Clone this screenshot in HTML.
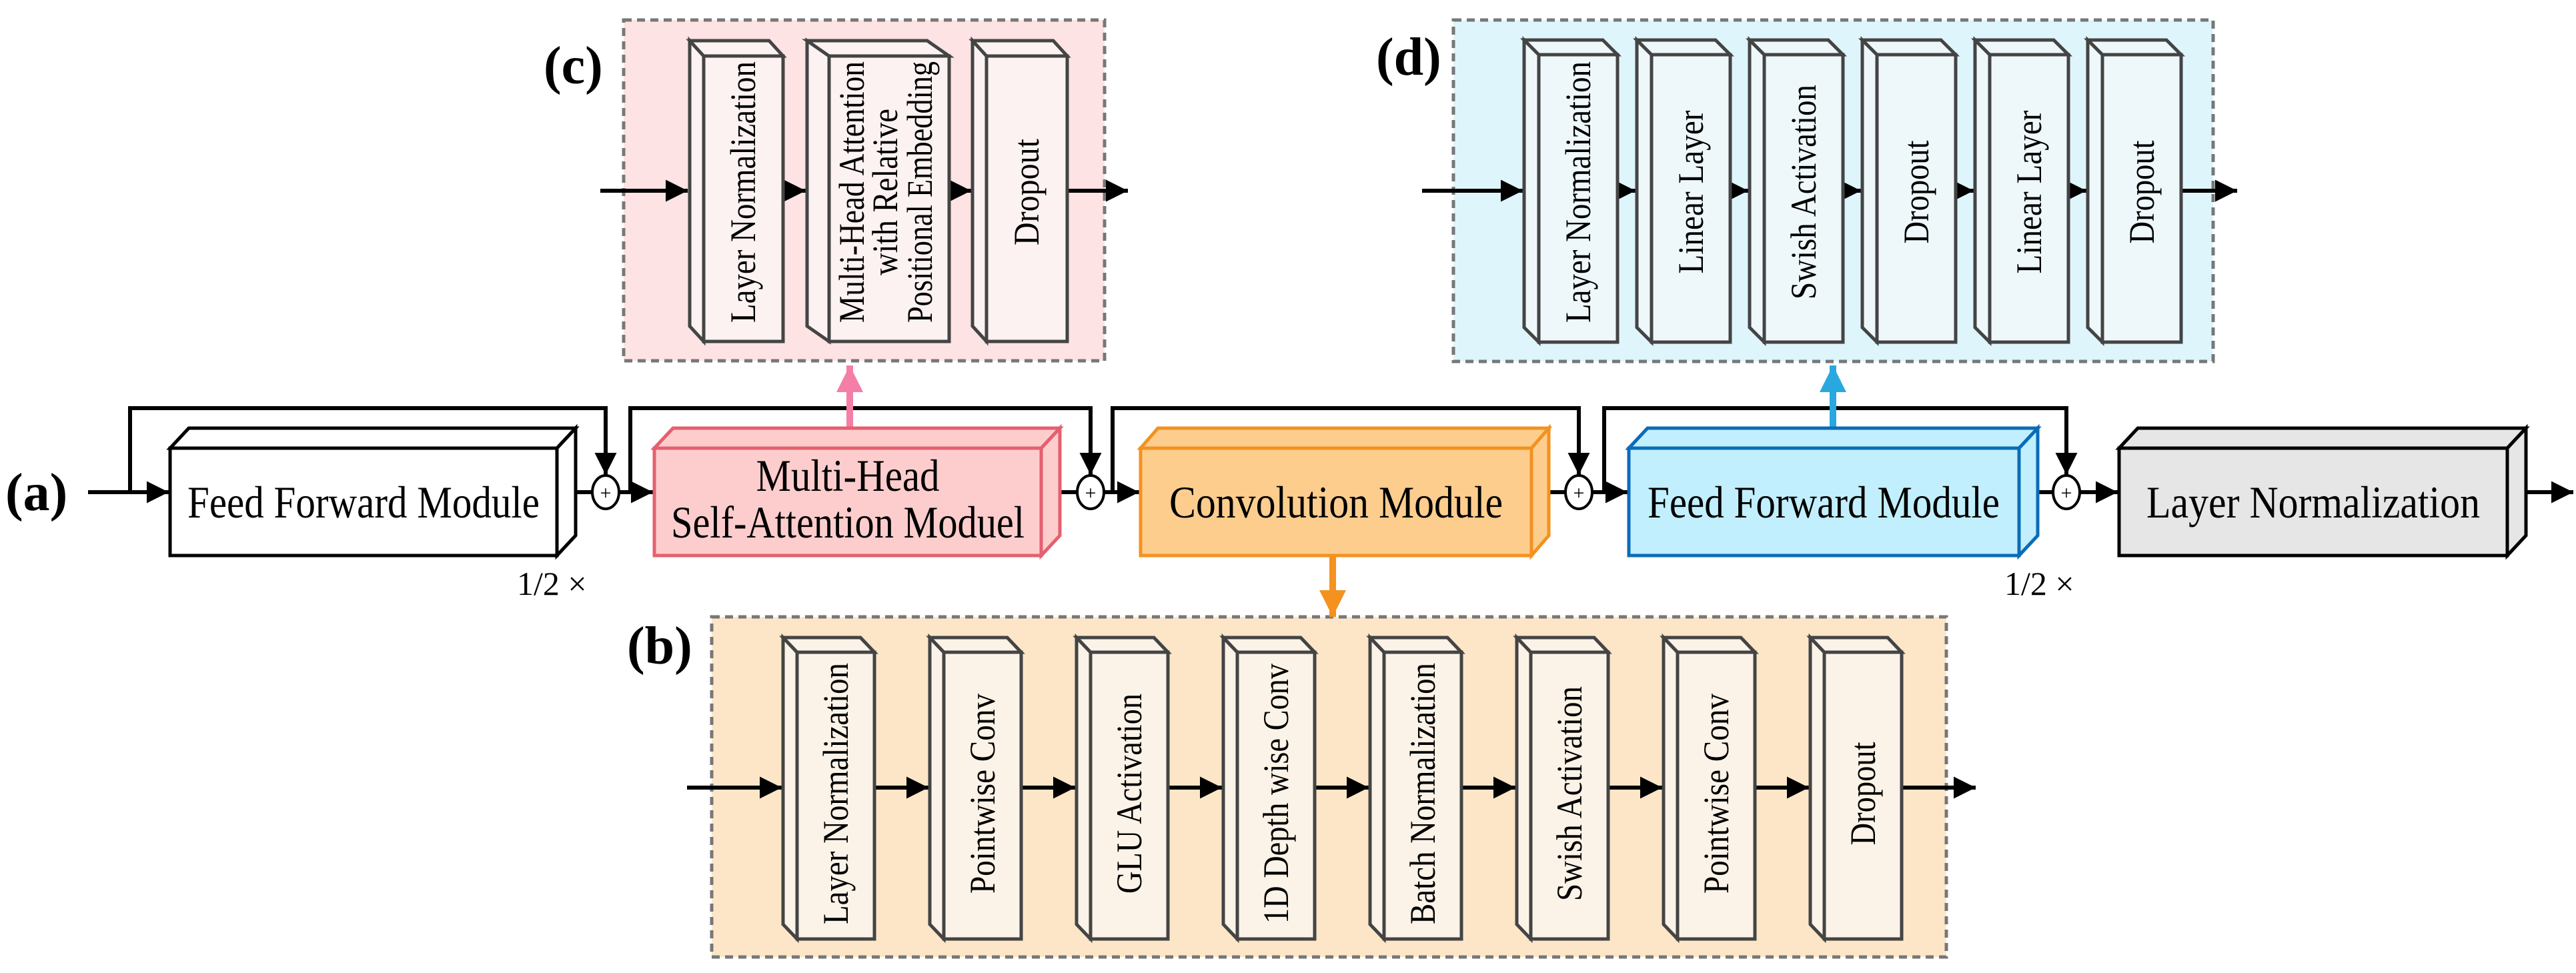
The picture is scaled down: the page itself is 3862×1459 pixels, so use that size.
<!DOCTYPE html>
<html><head><meta charset="utf-8"><style>html,body{margin:0;padding:0;background:#fff}svg{display:block}text{font-family:"Liberation Serif",serif}</style></head><body>
<svg width="3862" height="1459" viewBox="0 0 3862 1459" xmlns="http://www.w3.org/2000/svg" style="font-family:'Liberation Serif',serif">
<defs>
<marker id="a" viewBox="0 0 10 10" refX="10" refY="5" markerWidth="5.5" markerHeight="5.5" orient="auto"><path d="M0,0 L10,5 L0,10 z" fill="#000"/></marker>
<marker id="ap" viewBox="0 0 10 10" refX="10" refY="5" markerWidth="4" markerHeight="4" orient="auto"><path d="M0,0 L10,5 L0,10 z" fill="#f47ea8"/></marker>
<marker id="ao" viewBox="0 0 10 10" refX="10" refY="5" markerWidth="4" markerHeight="4" orient="auto"><path d="M0,0 L10,5 L0,10 z" fill="#f4921f"/></marker>
<marker id="ab" viewBox="0 0 10 10" refX="10" refY="5" markerWidth="4" markerHeight="4" orient="auto"><path d="M0,0 L10,5 L0,10 z" fill="#29a8e0"/></marker>
</defs>

<rect x="935" y="30" width="721" height="511" fill="#fde3e3" stroke="#777" stroke-width="5" stroke-dasharray="12,8"/>
<rect x="2179" y="30" width="1139" height="512" fill="#dff5fc" stroke="#777" stroke-width="5" stroke-dasharray="12,8"/>
<rect x="1067" y="925" width="1851" height="510" fill="#fde6c8" stroke="#777" stroke-width="5" stroke-dasharray="12,8"/>

<g font-size="80" font-weight="bold">
<text x="8" y="765">(a)</text>
<text x="940" y="995">(b)</text>
<text x="815" y="125">(c)</text>
<text x="2063" y="112">(d)</text>
</g>

<g stroke="#000" stroke-width="6" fill="none">
<line x1="132" y1="738" x2="253" y2="738" marker-end="url(#a)"/>
<line x1="863" y1="738" x2="888" y2="738"/>
<line x1="928" y1="738" x2="979" y2="738" marker-end="url(#a)"/>
<line x1="1589" y1="738" x2="1615" y2="738"/>
<line x1="1655" y1="738" x2="1708" y2="738" marker-end="url(#a)"/>
<line x1="2322" y1="738" x2="2347" y2="738"/>
<line x1="2387" y1="738" x2="2440" y2="738" marker-end="url(#a)"/>
<line x1="3055" y1="738" x2="3078" y2="738"/>
<line x1="3118" y1="738" x2="3175" y2="738" marker-end="url(#a)"/>
<line x1="3787" y1="738" x2="3858" y2="738" marker-end="url(#a)"/>
<polyline points="195,738 195,612 908,612 908,712" marker-end="url(#a)"/>
<polyline points="945,738 945,612 1635,612 1635,712" marker-end="url(#a)"/>
<polyline points="1668,738 1668,612 2367,612 2367,712" marker-end="url(#a)"/>
<polyline points="2405,738 2405,612 3098,612 3098,712" marker-end="url(#a)"/>
</g>
<g stroke="#000" stroke-width="4" fill="#fff">
<ellipse cx="908" cy="738" rx="20" ry="25"/><ellipse cx="1635" cy="738" rx="20" ry="25"/><ellipse cx="2367" cy="738" rx="20" ry="25"/><ellipse cx="3098" cy="738" rx="20" ry="25"/>
</g>
<g font-size="30" text-anchor="middle"><text x="908" y="749">+</text><text x="1635" y="749">+</text><text x="2367" y="749">+</text><text x="3098" y="749">+</text></g>

<line x1="1274" y1="642" x2="1274" y2="548" stroke="#f47ea8" stroke-width="10" marker-end="url(#ap)"/>
<line x1="1998" y1="833" x2="1998" y2="925" stroke="#f4921f" stroke-width="10" marker-end="url(#ao)"/>
<line x1="2748" y1="642" x2="2748" y2="548" stroke="#29a8e0" stroke-width="10" marker-end="url(#ab)"/>

<g stroke-width="5" stroke-linejoin="miter">
<g fill="#fff" stroke="#000">
<polygon points="255,672 283,642 863,642 835,672"/><polygon points="835,672 863,642 863,803 835,833"/><rect x="255" y="672" width="580" height="161"/>
</g>
<g fill="#fdcdcd" stroke="#e5606f">
<polygon points="981,672 1009,642 1589,642 1561,672"/><polygon points="1561,672 1589,642 1589,803 1561,833"/><rect x="981" y="672" width="580" height="161"/>
</g>
<g fill="#fdcd8e" stroke="#f3921f">
<polygon points="1710,672 1736,642 2322,642 2296,672"/><polygon points="2296,672 2322,642 2322,803 2296,833"/><rect x="1710" y="672" width="586" height="161"/>
</g>
<g fill="#c2effd" stroke="#0a6cb8">
<polygon points="2442,672 2470,642 3055,642 3027,672"/><polygon points="3027,672 3055,642 3055,803 3027,833"/><rect x="2442" y="672" width="585" height="161"/>
</g>
<g fill="#e6e6e6" stroke="#000">
<polygon points="3177,672 3205,642 3787,642 3759,672"/><polygon points="3759,672 3787,642 3787,803 3759,833"/><rect x="3177" y="672" width="582" height="161"/>
</g>
</g>
<g font-size="68" text-anchor="middle">
<text x="545" y="776" textLength="528" lengthAdjust="spacingAndGlyphs">Feed Forward Module</text>
<text x="1271" y="736" textLength="275" lengthAdjust="spacingAndGlyphs">Multi-Head</text>
<text x="1271" y="806" textLength="530" lengthAdjust="spacingAndGlyphs">Self-Attention Moduel</text>
<text x="2003" y="776" textLength="500" lengthAdjust="spacingAndGlyphs">Convolution Module</text>
<text x="2734" y="776" textLength="528" lengthAdjust="spacingAndGlyphs">Feed Forward Module</text>
<text x="3468" y="776" textLength="500" lengthAdjust="spacingAndGlyphs">Layer Normalization</text>
</g>
<g font-size="50"><text x="775" y="892">1/2 ×</text><text x="3005" y="892">1/2 ×</text></g>

<g stroke="#000" stroke-width="6" fill="none">
<line x1="900" y1="286" x2="1031" y2="286" marker-end="url(#a)"/>
<line x1="1174" y1="286" x2="1208" y2="286" marker-end="url(#a)"/>
<line x1="1423" y1="286" x2="1456" y2="286" marker-end="url(#a)"/>
<line x1="1600" y1="286" x2="1691" y2="286" marker-end="url(#a)"/>
</g>
<g fill="#fcf2f2" stroke="#444" stroke-width="5">
<polygon points="1055,84 1034,61 1034,489 1055,512"/><polygon points="1055,84 1034,61 1153,61 1174,84"/><rect x="1055" y="84" width="119" height="428"/>
<polygon points="1243,84 1210,61 1210,489 1243,512"/><polygon points="1243,84 1210,61 1390,61 1423,84"/><rect x="1243" y="84" width="180" height="428"/>
<polygon points="1479,84 1458,61 1458,489 1479,512"/><polygon points="1479,84 1458,61 1579,61 1600,84"/><rect x="1479" y="84" width="121" height="428"/>
</g>
<g font-size="54" text-anchor="middle">
<text transform="translate(1132,288) rotate(-90)" textLength="392" lengthAdjust="spacingAndGlyphs">Layer Normalization</text>
<text transform="translate(1295,288) rotate(-90)" textLength="392" lengthAdjust="spacingAndGlyphs">Multi-Head Attention</text>
<text transform="translate(1345,288) rotate(-90)" textLength="250" lengthAdjust="spacingAndGlyphs">with Relative</text>
<text transform="translate(1397,288) rotate(-90)" textLength="392" lengthAdjust="spacingAndGlyphs">Positional Embedding</text>
<text transform="translate(1557,288) rotate(-90)" textLength="160" lengthAdjust="spacingAndGlyphs">Dropout</text>
</g>

<g stroke="#000" stroke-width="6" fill="none">
<line x1="2132" y1="286" x2="2283" y2="286" marker-end="url(#a)"/>
<line x1="2425" y1="286" x2="2452" y2="286" marker-end="url(#a)"/>
<line x1="2594" y1="286" x2="2621" y2="286" marker-end="url(#a)"/>
<line x1="2763" y1="286" x2="2790" y2="286" marker-end="url(#a)"/>
<line x1="2932" y1="286" x2="2959" y2="286" marker-end="url(#a)"/>
<line x1="3101" y1="286" x2="3128" y2="286" marker-end="url(#a)"/>
<line x1="3270" y1="286" x2="3354" y2="286" marker-end="url(#a)"/>
</g>
<g fill="#eef8fb" stroke="#444" stroke-width="5">
<polygon points="2307,82 2285,60 2285,491 2307,513"/><polygon points="2307,82 2285,60 2403,60 2425,82"/><rect x="2307" y="82" width="118" height="431"/>
<polygon points="2476,82 2454,60 2454,491 2476,513"/><polygon points="2476,82 2454,60 2572,60 2594,82"/><rect x="2476" y="82" width="118" height="431"/>
<polygon points="2645,82 2623,60 2623,491 2645,513"/><polygon points="2645,82 2623,60 2741,60 2763,82"/><rect x="2645" y="82" width="118" height="431"/>
<polygon points="2814,82 2792,60 2792,491 2814,513"/><polygon points="2814,82 2792,60 2910,60 2932,82"/><rect x="2814" y="82" width="118" height="431"/>
<polygon points="2983,82 2961,60 2961,491 2983,513"/><polygon points="2983,82 2961,60 3079,60 3101,82"/><rect x="2983" y="82" width="118" height="431"/>
<polygon points="3152,82 3130,60 3130,491 3152,513"/><polygon points="3152,82 3130,60 3248,60 3270,82"/><rect x="3152" y="82" width="118" height="431"/>
</g>
<g font-size="54" text-anchor="middle">
<text transform="translate(2384,288) rotate(-90)" textLength="392" lengthAdjust="spacingAndGlyphs">Layer Normalization</text>
<text transform="translate(2553,288) rotate(-90)" textLength="245" lengthAdjust="spacingAndGlyphs">Linear Layer</text>
<text transform="translate(2722,288) rotate(-90)" textLength="322" lengthAdjust="spacingAndGlyphs">Swish Activation</text>
<text transform="translate(2891,288) rotate(-90)" textLength="155" lengthAdjust="spacingAndGlyphs">Dropout</text>
<text transform="translate(3060,288) rotate(-90)" textLength="245" lengthAdjust="spacingAndGlyphs">Linear Layer</text>
<text transform="translate(3229,288) rotate(-90)" textLength="155" lengthAdjust="spacingAndGlyphs">Dropout</text>
</g>

<g stroke="#000" stroke-width="6" fill="none">
<line x1="1030" y1="1181" x2="1172" y2="1181" marker-end="url(#a)"/>
<line x1="1311" y1="1181" x2="1392" y2="1181" marker-end="url(#a)"/>
<line x1="1531" y1="1181" x2="1612" y2="1181" marker-end="url(#a)"/>
<line x1="1751" y1="1181" x2="1832" y2="1181" marker-end="url(#a)"/>
<line x1="1971" y1="1181" x2="2052" y2="1181" marker-end="url(#a)"/>
<line x1="2191" y1="1181" x2="2272" y2="1181" marker-end="url(#a)"/>
<line x1="2411" y1="1181" x2="2492" y2="1181" marker-end="url(#a)"/>
<line x1="2631" y1="1181" x2="2712" y2="1181" marker-end="url(#a)"/>
<line x1="2851" y1="1181" x2="2962" y2="1181" marker-end="url(#a)"/>
</g>
<g fill="#fcf3e8" stroke="#444" stroke-width="5">
<polygon points="1195,978 1174,956 1174,1386 1195,1408"/><polygon points="1195,978 1174,956 1290,956 1311,978"/><rect x="1195" y="978" width="116" height="430"/>
<polygon points="1415,978 1394,956 1394,1386 1415,1408"/><polygon points="1415,978 1394,956 1510,956 1531,978"/><rect x="1415" y="978" width="116" height="430"/>
<polygon points="1635,978 1614,956 1614,1386 1635,1408"/><polygon points="1635,978 1614,956 1730,956 1751,978"/><rect x="1635" y="978" width="116" height="430"/>
<polygon points="1855,978 1834,956 1834,1386 1855,1408"/><polygon points="1855,978 1834,956 1950,956 1971,978"/><rect x="1855" y="978" width="116" height="430"/>
<polygon points="2075,978 2054,956 2054,1386 2075,1408"/><polygon points="2075,978 2054,956 2170,956 2191,978"/><rect x="2075" y="978" width="116" height="430"/>
<polygon points="2295,978 2274,956 2274,1386 2295,1408"/><polygon points="2295,978 2274,956 2390,956 2411,978"/><rect x="2295" y="978" width="116" height="430"/>
<polygon points="2515,978 2494,956 2494,1386 2515,1408"/><polygon points="2515,978 2494,956 2610,956 2631,978"/><rect x="2515" y="978" width="116" height="430"/>
<polygon points="2735,978 2714,956 2714,1386 2735,1408"/><polygon points="2735,978 2714,956 2830,956 2851,978"/><rect x="2735" y="978" width="116" height="430"/>
</g>
<g font-size="54" text-anchor="middle">
<text transform="translate(1271,1190) rotate(-90)" textLength="392" lengthAdjust="spacingAndGlyphs">Layer Normalization</text>
<text transform="translate(1491,1190) rotate(-90)" textLength="300" lengthAdjust="spacingAndGlyphs">Pointwise Conv</text>
<text transform="translate(1711,1190) rotate(-90)" textLength="300" lengthAdjust="spacingAndGlyphs">GLU Activation</text>
<text transform="translate(1931,1190) rotate(-90)" textLength="390" lengthAdjust="spacingAndGlyphs">1D Depth wise Conv</text>
<text transform="translate(2151,1190) rotate(-90)" textLength="392" lengthAdjust="spacingAndGlyphs">Batch Normalization</text>
<text transform="translate(2371,1190) rotate(-90)" textLength="322" lengthAdjust="spacingAndGlyphs">Swish Activation</text>
<text transform="translate(2591,1190) rotate(-90)" textLength="300" lengthAdjust="spacingAndGlyphs">Pointwise Conv</text>
<text transform="translate(2811,1190) rotate(-90)" textLength="155" lengthAdjust="spacingAndGlyphs">Dropout</text>
</g>
</svg>
</body></html>
